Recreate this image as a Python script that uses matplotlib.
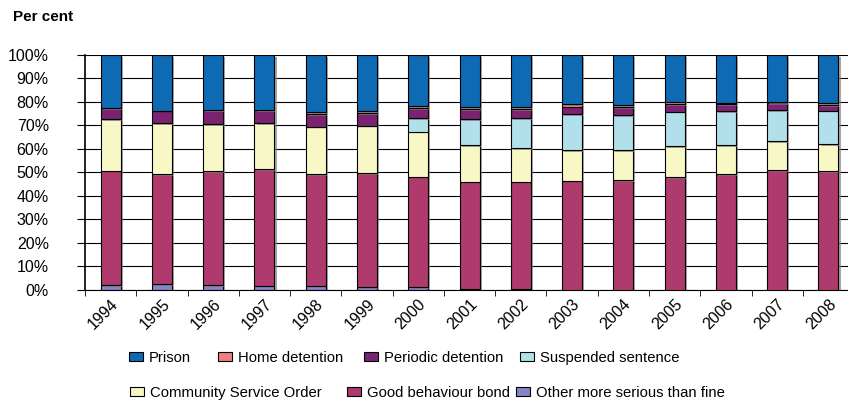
import matplotlib.pyplot as plt
import matplotlib.patches as mpatches
import matplotlib.patheffects as pe
import numpy as np

plt.rcParams['font.family'] = ['Liberation Sans', 'DejaVu Sans']

years = ['1994', '1995', '1996', '1997', '1998', '1999', '2000', '2001',
         '2002', '2003', '2004', '2005', '2006', '2007', '2008']

# shares in per cent, bottom to top
other = [1.8, 2.4, 2.0, 1.7, 1.6, 0.9, 0.9, 0.4, 0.2, 0.0, 0.0, 0.0, 0.0, 0.0, 0.0]
good_bond = [48.8, 46.8, 48.4, 49.7, 47.5, 48.6, 47.2, 45.5, 45.7, 46.4, 46.7, 47.8, 49.1, 50.8, 50.4]
community = [22.1, 21.6, 20.2, 19.4, 20.3, 20.3, 19.2, 15.6, 14.3, 13.1, 12.8, 13.4, 12.5, 12.4, 11.5]
suspended = [0.0, 0.0, 0.0, 0.0, 0.0, 0.0, 5.7, 11.0, 12.8, 15.2, 14.9, 14.6, 14.5, 13.3, 14.3]
periodic = [4.5, 5.4, 5.9, 5.6, 5.3, 5.3, 4.4, 4.3, 3.8, 3.3, 3.3, 3.1, 2.8, 2.9, 2.3]
home = [0.0, 0.0, 0.0, 0.0, 0.8, 0.9, 0.8, 0.9, 0.9, 0.9, 0.8, 1.2, 0.8, 0.4, 0.9]
prison = [22.8, 23.8, 23.5, 23.6, 24.5, 24.0, 21.8, 22.3, 22.3, 21.1, 21.5, 19.9, 20.3, 20.2, 20.6]

series = [
    ('Other more serious than fine', other, '#8585C4'),
    ('Good behaviour bond', good_bond, '#AF3A6E'),
    ('Community Service Order', community, '#F8F8C6'),
    ('Suspended sentence', suspended, '#B2E0EA'),
    ('Periodic detention', periodic, '#7B2270'),
    ('Home detention', home, '#F27F7F'),
    ('Prison', prison, '#0F6AB4'),
]

fig = plt.figure(figsize=(8.48, 4.19), dpi=100)
# plot area runs a little past the right edge, as in the original
ax = fig.add_axes([0.1002, 0.309, 0.907, 0.560])

x = np.arange(len(years))
bottom = np.zeros(len(years))
handles = {}
shadow = [pe.SimplePatchShadow(offset=(1.5, -1.2), shadow_rgbFace='#808080', alpha=0.7), pe.Normal()]
for name, vals, col in series:
    vals = np.array(vals)
    bars = ax.bar(x, vals, 0.39, bottom=bottom, color=col, edgecolor='black',
                  linewidth=0.8, zorder=3)
    for b in bars:
        b.set_path_effects(shadow)
    handles[name] = mpatches.Patch(facecolor=col, edgecolor='black', linewidth=0.8)
    bottom += vals

ax.set_xlim(-0.5, len(years) - 0.5)
ax.set_ylim(0, 100)
ax.set_yticks(np.arange(0, 101, 10))
ax.set_yticklabels([f'{v}%' for v in range(0, 101, 10)], fontsize=11.5)
ax.yaxis.grid(True, color='black', linewidth=0.8, zorder=0)
ax.set_axisbelow(True)

ax.set_xticks(x)
ax.set_xticklabels(years, rotation=45, ha='right', rotation_mode='anchor', fontsize=11.5)
ax.tick_params(axis='x', length=0, pad=5)
ax.set_xticks(np.arange(-0.5, len(years), 1), minor=True)
ax.tick_params(axis='x', which='minor', length=4, color='black')
ax.tick_params(axis='y', length=6, direction='out', pad=20)

ax.spines['top'].set_visible(False)
ax.spines['right'].set_visible(False)
ax.spines['left'].set_linewidth(1.2)

fig.text(0.015, 0.96, 'Per cent', fontsize=11, fontweight='bold', ha='left', va='center')

# legend entries, placed one by one like the spreadsheet legend
legend_pos = [
    ('Prison', 129, 358), ('Home detention', 218, 358),
    ('Periodic detention', 364, 358), ('Suspended sentence', 520, 358),
    ('Community Service Order', 130, 393), ('Good behaviour bond', 347, 393),
    ('Other more serious than fine', 516, 393),
]
for name, px, py in legend_pos:
    fig.legend([handles[name]], [name], loc='center left',
               bbox_to_anchor=(px / 848, 1 - py / 419), frameon=False, fontsize=10.7,
               handlelength=0.95, handleheight=0.6, handletextpad=0.4,
               borderpad=0, borderaxespad=0)

fig.savefig('out.png', dpi=100)
